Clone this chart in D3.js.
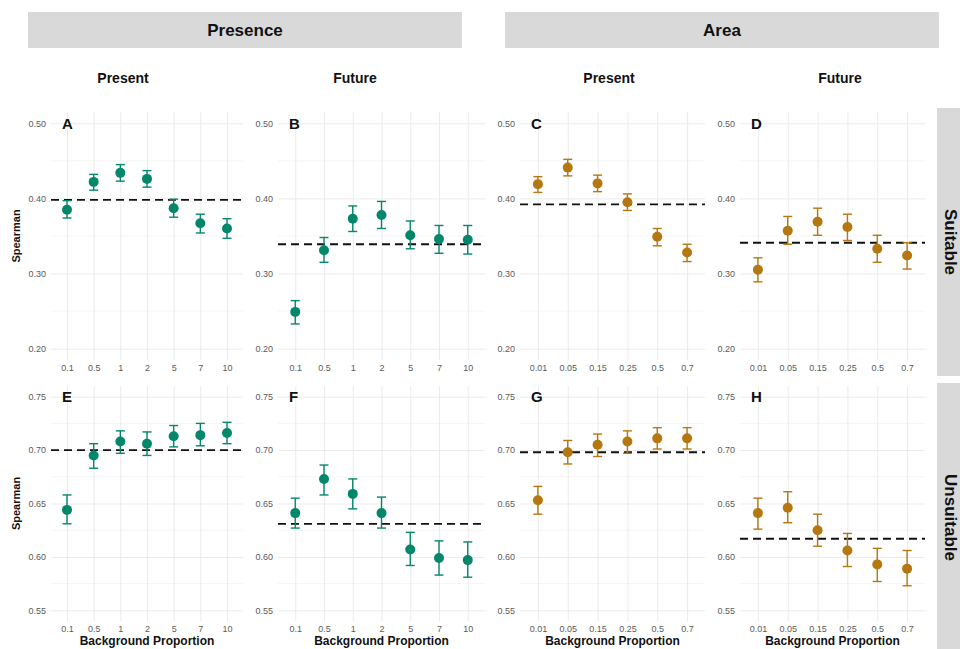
<!DOCTYPE html>
<html>
<head>
<meta charset="utf-8">
<script src="https://cdn.jsdelivr.net/npm/d3@7"></script>
<style>
  body { margin: 0; background: #fff; }
  svg { font-family: "Liberation Sans", Arial, sans-serif; }
</style>
</head>
<body>
<svg id="chart" width="960" height="649"></svg>
<script>
// categories (background proportion)
const presenceCats = ['0.1', '0.5', '1', '2', '5', '7', '10'];
const areaCats = ['0.01', '0.05', '0.15', '0.25', '0.5', '0.7'];

// y ticks per row
const suitTicks = [0.2, 0.3, 0.4, 0.5];
const unsuitTicks = [0.55, 0.6, 0.65, 0.7, 0.75];

// A: Suitable, Presence, Present
const aMean = [0.385, 0.422, 0.434, 0.426, 0.387, 0.367, 0.360];
const aLo   = [0.374, 0.411, 0.423, 0.415, 0.375, 0.354, 0.347];
const aHi   = [0.397, 0.432, 0.445, 0.437, 0.399, 0.379, 0.373];
const aRef = 0.398;
// B: Suitable, Presence, Future
const bMean = [0.249, 0.331, 0.373, 0.378, 0.351, 0.346, 0.345];
const bLo   = [0.233, 0.315, 0.356, 0.360, 0.333, 0.327, 0.326];
const bHi   = [0.264, 0.348, 0.390, 0.396, 0.370, 0.364, 0.364];
const bRef = 0.339;
// C: Suitable, Area, Present
const cMean = [0.419, 0.441, 0.420, 0.395, 0.349, 0.328];
const cLo   = [0.408, 0.430, 0.409, 0.384, 0.337, 0.316];
const cHi   = [0.429, 0.452, 0.431, 0.406, 0.360, 0.339];
const cRef = 0.392;
// D: Suitable, Area, Future
const dMean = [0.305, 0.357, 0.369, 0.362, 0.333, 0.324];
const dLo   = [0.289, 0.339, 0.351, 0.344, 0.315, 0.306];
const dHi   = [0.321, 0.376, 0.387, 0.379, 0.351, 0.341];
const dRef = 0.341;
// E: Unsuitable, Presence, Present
const eMean = [0.644, 0.695, 0.708, 0.706, 0.713, 0.714, 0.716];
const eLo   = [0.631, 0.683, 0.697, 0.695, 0.703, 0.704, 0.706];
const eHi   = [0.658, 0.706, 0.718, 0.717, 0.723, 0.725, 0.726];
const eRef = 0.700;
// F: Unsuitable, Presence, Future
const fMean = [0.641, 0.673, 0.659, 0.641, 0.607, 0.599, 0.597];
const fLo   = [0.627, 0.658, 0.645, 0.627, 0.592, 0.583, 0.581];
const fHi   = [0.655, 0.686, 0.673, 0.656, 0.623, 0.615, 0.614];
const fRef = 0.631;
// G: Unsuitable, Area, Present
const gMean = [0.653, 0.698, 0.705, 0.708, 0.711, 0.711];
const gLo   = [0.640, 0.687, 0.694, 0.697, 0.701, 0.701];
const gHi   = [0.666, 0.709, 0.715, 0.718, 0.721, 0.721];
const gRef = 0.698;
// H: Unsuitable, Area, Future
const hMean = [0.641, 0.646, 0.625, 0.606, 0.593, 0.589];
const hLo   = [0.626, 0.632, 0.610, 0.591, 0.577, 0.573];
const hHi   = [0.655, 0.661, 0.640, 0.622, 0.608, 0.606];
const hRef = 0.617;

const teal = '#03876b';
const gold = '#b5770f';

const svg = d3.select('#chart');

// panel column extents and row extents (pixels)
const cols = [[51, 243], [278, 485], [520, 705], [740, 925]];
const rows = [
  { top: 112, bottom: 360, domain: [0.185, 0.515], ticks: suitTicks },
  { top: 386, bottom: 621, domain: [0.54, 0.76], ticks: unsuitTicks }
];
const fmt = d3.format('.2f');

const panels = [
  { label: 'A', col: 0, row: 0, cats: presenceCats, mean: aMean, lo: aLo, hi: aHi, ref: aRef, color: teal },
  { label: 'B', col: 1, row: 0, cats: presenceCats, mean: bMean, lo: bLo, hi: bHi, ref: bRef, color: teal },
  { label: 'C', col: 2, row: 0, cats: areaCats, mean: cMean, lo: cLo, hi: cHi, ref: cRef, color: gold },
  { label: 'D', col: 3, row: 0, cats: areaCats, mean: dMean, lo: dLo, hi: dHi, ref: dRef, color: gold },
  { label: 'E', col: 0, row: 1, cats: presenceCats, mean: eMean, lo: eLo, hi: eHi, ref: eRef, color: teal },
  { label: 'F', col: 1, row: 1, cats: presenceCats, mean: fMean, lo: fLo, hi: fHi, ref: fRef, color: teal },
  { label: 'G', col: 2, row: 1, cats: areaCats, mean: gMean, lo: gLo, hi: gHi, ref: gRef, color: gold },
  { label: 'H', col: 3, row: 1, cats: areaCats, mean: hMean, lo: hLo, hi: hHi, ref: hRef, color: gold }
];

panels.forEach(p => {
  const [x0, x1] = cols[p.col];
  const r = rows[p.row];

  const x = d3.scalePoint().domain(p.cats).range([x0, x1]).padding(0.6);
  const y = d3.scaleLinear().domain(r.domain).range([r.bottom, r.top]);

  const g = svg.append('g');

  // minor gridlines
  const minor = r.ticks.slice(0, -1).map((t, i) => (t + r.ticks[i + 1]) / 2);
  g.selectAll('.minor').data(minor).enter().append('line')
    .attr('x1', x0).attr('x2', x1)
    .attr('y1', d => y(d)).attr('y2', d => y(d))
    .attr('stroke', '#f3f3f3').attr('stroke-width', 0.8);

  // major gridlines (y)
  g.append('g')
    .attr('transform', `translate(${x0},0)`)
    .call(d3.axisLeft(y).tickValues(r.ticks).tickSize(-(x1 - x0)).tickFormat(fmt).tickPadding(5))
    .call(a => a.select('.domain').remove())
    .call(a => a.selectAll('.tick line').attr('stroke', '#ebebeb').attr('stroke-width', 1))
    .call(a => a.selectAll('.tick text').attr('fill', '#5a5a5a').style('font-size', '9px'));

  // x gridlines + tick labels
  g.append('g')
    .attr('transform', `translate(0,${r.bottom})`)
    .call(d3.axisBottom(x).tickSize(-(r.bottom - r.top)).tickPadding(5))
    .call(a => a.select('.domain').remove())
    .call(a => a.selectAll('.tick line').attr('stroke', '#ebebeb').attr('stroke-width', 1))
    .call(a => a.selectAll('.tick text').attr('fill', '#5a5a5a').style('font-size', '9px'));

  // reference line
  g.append('line')
    .attr('x1', x0).attr('x2', x1)
    .attr('y1', y(p.ref)).attr('y2', y(p.ref))
    .attr('stroke', '#111').attr('stroke-width', 1.8)
    .attr('stroke-dasharray', '8,5');

  // error bars
  const bars = g.selectAll('.err').data(p.cats).enter().append('g');
  bars.append('line')
    .attr('x1', d => x(d)).attr('x2', d => x(d))
    .attr('y1', (d, i) => y(p.lo[i])).attr('y2', (d, i) => y(p.hi[i]))
    .attr('stroke', p.color).attr('stroke-width', 1.4);
  ['lo', 'hi'].forEach(k => {
    bars.append('line')
      .attr('x1', d => x(d) - 4.5).attr('x2', d => x(d) + 4.5)
      .attr('y1', (d, i) => y(p[k][i])).attr('y2', (d, i) => y(p[k][i]))
      .attr('stroke', p.color).attr('stroke-width', 1.4);
  });

  // points
  g.selectAll('.pt').data(p.cats).enter().append('circle')
    .attr('cx', d => x(d))
    .attr('cy', (d, i) => y(p.mean[i]))
    .attr('r', 5)
    .attr('fill', p.color);

  // panel tag
  g.append('text')
    .attr('x', x0 + 11).attr('y', y(r.ticks[r.ticks.length - 1]) + 5.5)
    .style('font-size', '15px').style('font-weight', 'bold').attr('fill', '#111')
    .text(p.label);

  // axis titles
  if (p.col === 0) {
    g.append('text')
      .attr('transform', `translate(20,${(r.top + r.bottom) / 2}) rotate(-90)`)
      .attr('text-anchor', 'middle')
      .style('font-size', '11px').style('font-weight', 'bold').attr('fill', '#111')
      .text('Spearman');
  }
  if (p.row === 1) {
    g.append('text')
      .attr('x', (x0 + x1) / 2).attr('y', 645)
      .attr('text-anchor', 'middle')
      .style('font-size', '12px').style('font-weight', 'bold').attr('fill', '#111')
      .text('Background Proportion');
  }
});

// top strips
const topStrips = [
  { name: 'Presence', x0: 28, x1: 462 },
  { name: 'Area', x0: 505, x1: 939 }
];
topStrips.forEach(s => {
  svg.append('rect').attr('x', s.x0).attr('y', 12)
    .attr('width', s.x1 - s.x0).attr('height', 36).attr('fill', '#d9d9d9');
  svg.append('text').attr('x', (s.x0 + s.x1) / 2).attr('y', 36)
    .attr('text-anchor', 'middle')
    .style('font-size', '17px').style('font-weight', 'bold').attr('fill', '#111')
    .text(s.name);
});

// column titles
const colTitles = [
  { name: 'Present', x: 123 },
  { name: 'Future', x: 355 },
  { name: 'Present', x: 609 },
  { name: 'Future', x: 840 }
];
colTitles.forEach(t => {
  svg.append('text').attr('x', t.x).attr('y', 83)
    .attr('text-anchor', 'middle')
    .style('font-size', '14px').style('font-weight', 'bold').attr('fill', '#111')
    .text(t.name);
});

// right strips
const sideStrips = [
  { name: 'Suitable', y0: 108, y1: 376 },
  { name: 'Unsuitable', y0: 383, y1: 652 }
];
sideStrips.forEach(s => {
  svg.append('rect').attr('x', 937).attr('y', s.y0)
    .attr('width', 30).attr('height', s.y1 - s.y0).attr('fill', '#d9d9d9');
  svg.append('text')
    .attr('transform', `translate(945,${(s.y0 + s.y1) / 2}) rotate(90)`)
    .attr('text-anchor', 'middle')
    .style('font-size', '17px').style('font-weight', 'bold').attr('fill', '#111')
    .text(s.name);
});
</script>
</body>
</html>
